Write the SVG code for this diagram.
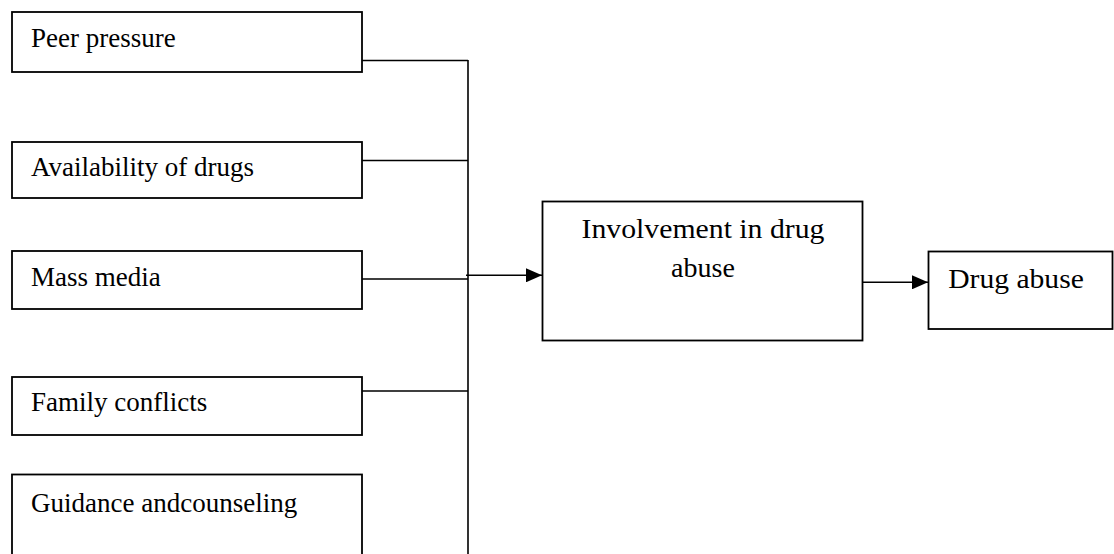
<svg xmlns="http://www.w3.org/2000/svg" width="1114" height="554" viewBox="0 0 1114 554">
<style>
.box{fill:#fff;stroke:#000;stroke-width:1.8}
.t{font-family:"Liberation Serif","Times New Roman",serif;font-size:27px;fill:#000}
.tc{font-family:"Liberation Serif","Times New Roman",serif;font-size:28px;fill:#000;text-anchor:middle}
.ln{fill:none;stroke:#000;stroke-width:1.6}
</style>
<defs>
<marker id="ah" markerUnits="userSpaceOnUse" markerWidth="16" markerHeight="14" refX="16" refY="7" orient="auto">
<path d="M0,0 L16,7 L0,14 Z" fill="#000"/>
</marker>
</defs>
<rect width="1114" height="554" fill="#fff"/>
<g id="connectors">
<path class="ln" d="M362,60.5 H468 M362,160.5 H468 M362,279 H468 M362,391 H468 M468,60 V554"/>
<line class="ln" x1="466" y1="275.3" x2="542" y2="275.3" marker-end="url(#ah)"/>
<line class="ln" x1="862" y1="282.3" x2="928" y2="282.3" marker-end="url(#ah)"/>
</g>
<g id="peer-pressure">
<rect class="box" x="12" y="12" width="350" height="60"/>
<text class="t" x="31" y="46.5">Peer pressure</text>
</g>
<g id="availability">
<rect class="box" x="12" y="142" width="350" height="56"/>
<text class="t" x="31" y="176">Availability of drugs</text>
</g>
<g id="mass-media">
<rect class="box" x="12" y="251" width="350" height="58"/>
<text class="t" x="31" y="286">Mass media</text>
</g>
<g id="family-conflicts">
<rect class="box" x="12" y="377" width="350" height="58"/>
<text class="t" x="31" y="410.5">Family conflicts</text>
</g>
<g id="guidance">
<rect class="box" x="12" y="474.5" width="350" height="90"/>
<text class="t" x="31" y="511.5">Guidance andcounseling</text>
</g>
<g id="involvement">
<rect class="box" x="542.5" y="201.5" width="320" height="139"/>
<text class="tc" x="703" y="238.3" textLength="243" lengthAdjust="spacingAndGlyphs">Involvement in drug</text>
<text class="tc" x="703" y="276.7">abuse</text>
</g>
<g id="drug-abuse">
<rect class="box" x="928.5" y="251.5" width="184" height="77.5"/>
<text class="tc" x="1016" y="288.3" textLength="135.7" lengthAdjust="spacingAndGlyphs">Drug abuse</text>
</g>
</svg>
